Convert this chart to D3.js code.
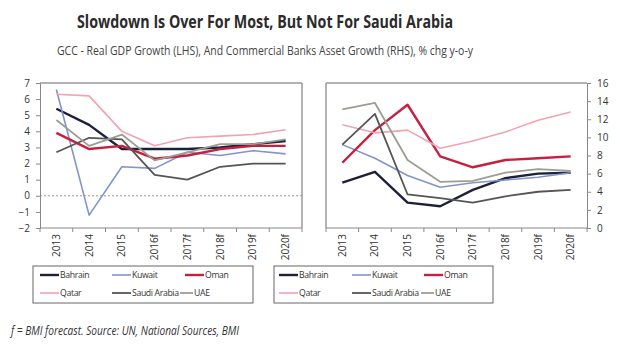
<!DOCTYPE html>
<html>
<head>
<meta charset="utf-8">
<script src="https://cdn.jsdelivr.net/npm/d3@7"></script>
<style>
    body { margin: 0; background: #fff; }
    svg { display: block; font-family: "Open Sans", sans-serif; }
</style>
</head>
<body>
<svg id="chart" width="620" height="349"></svg>
<script>
var years = ["2013", "2014", "2015", "2016f", "2017f", "2018f", "2019f", "2020f"];
var countries = ["Bahrain", "Kuwait", "Oman", "Qatar", "Saudi Arabia", "UAE"];
var colors = ["#1e1f3b", "#8195c8", "#c3213f", "#f2a2b3", "#555555", "#9b9e92"];
var widths = [2.4, 1.6, 2.4, 1.6, 1.8, 1.8];

// real GDP growth, % y-o-y (LHS)
var gdpBahrain = [5.4, 4.4, 2.9, 2.9, 2.9, 3.0, 3.2, 3.4];
var gdpKuwait = [6.6, -1.2, 1.8, 1.7, 2.7, 2.5, 2.8, 2.6];
var gdpOman = [3.9, 2.9, 3.1, 2.3, 2.5, 2.9, 3.1, 3.1];
var gdpQatar = [6.3, 6.2, 4.0, 3.1, 3.6, 3.7, 3.8, 4.1];
var gdpSaudi = [2.7, 3.6, 3.5, 1.3, 1.0, 1.8, 2.0, 2.0];
var gdpUAE = [4.7, 3.1, 3.8, 2.2, 2.7, 3.2, 3.2, 3.5];

// commercial banks asset growth, % y-o-y (RHS)
var astBahrain = [5.0, 6.2, 2.8, 2.4, 4.2, 5.5, 6.0, 6.1];
var astKuwait = [9.2, 7.7, 5.8, 4.5, 5.0, 5.3, 5.6, 6.1];
var astOman = [7.2, 10.8, 13.6, 7.9, 6.7, 7.5, 7.7, 7.9];
var astQatar = [11.4, 10.5, 10.8, 8.8, 9.6, 10.6, 11.9, 12.8];
var astSaudi = [9.2, 12.6, 3.7, 3.3, 2.8, 3.5, 4.0, 4.2];
var astUAE = [13.1, 13.8, 7.5, 5.1, 5.2, 6.1, 6.5, 6.3];

var gdpTicks = [-2, -1, 0, 1, 2, 3, 4, 5, 6, 7];
var astTicks = [0, 2, 4, 6, 8, 10, 12, 14, 16];

var svg = d3.select("#chart");

svg.append("text")
    .attr("x", 265).attr("y", 28)
    .attr("text-anchor", "middle")
    .attr("font-size", 17).attr("font-weight", "bold")
    .attr("fill", "#2b2b2b")
    .attr("textLength", 376).attr("lengthAdjust", "spacingAndGlyphs")
    .text("Slowdown Is Over For Most, But Not For Saudi Arabia");

svg.append("text")
    .attr("x", 265).attr("y", 55)
    .attr("text-anchor", "middle")
    .attr("font-size", 12).attr("fill", "#444")
    .attr("textLength", 416).attr("lengthAdjust", "spacingAndGlyphs")
    .text("GCC - Real GDP Growth (LHS), And Commercial Banks Asset Growth (RHS), % chg y-o-y");

svg.append("text")
    .attr("x", 11).attr("y", 335)
    .attr("font-size", 12).attr("font-style", "italic").attr("fill", "#333")
    .attr("textLength", 228).attr("lengthAdjust", "spacingAndGlyphs")
    .text("f = BMI forecast. Source: UN, National Sources, BMI");

function drawPanel(o) {
    var g = svg.append("g");
    var x = d3.scaleBand().domain(years).range([o.left, o.right]);
    var y = d3.scaleLinear().domain(o.domain).range([228, 83]);

    // frame: top and the side without an axis
    g.append("line")
        .attr("x1", o.left).attr("x2", o.right).attr("y1", 83).attr("y2", 83)
        .attr("stroke", "#999").attr("stroke-width", 1.5);
    var fx = o.axisSide == "left" ? o.right : o.left;
    g.append("line")
        .attr("x1", fx).attr("x2", fx).attr("y1", 83).attr("y2", 228)
        .attr("stroke", "#999").attr("stroke-width", 1.5);

    if (o.zeroLine) {
        g.append("line")
            .attr("x1", o.left).attr("x2", o.right)
            .attr("y1", y(0)).attr("y2", y(0))
            .attr("stroke", "#999").attr("stroke-dasharray", "2,2");
    }

    // y axis
    var ax = o.axisSide == "left" ? d3.axisLeft(y) : d3.axisRight(y);
    var yAxis = g.append("g")
        .attr("transform", "translate(" + (o.axisSide == "left" ? o.left : o.right) + ",0)")
        .call(ax.tickValues(o.ticks).tickSize(4).tickPadding(6));
    yAxis.select(".domain").attr("stroke", "#888");
    yAxis.selectAll(".tick line").attr("stroke", "#888");
    yAxis.selectAll("text").attr("font-size", 10).attr("fill", "#333")
        .attr("font-family", "Open Sans, sans-serif");

    // x axis, ticks sit between the categories
    var xAxis = g.append("g").attr("transform", "translate(0,228)");
    xAxis.append("line")
        .attr("x1", o.left).attr("x2", o.right)
        .attr("stroke", "#888");
    xAxis.selectAll("line.tk")
        .data(years.concat(["end"]))
        .enter().append("line")
        .attr("class", "tk")
        .attr("x1", function (d, i) { return o.left + i * x.bandwidth(); })
        .attr("x2", function (d, i) { return o.left + i * x.bandwidth(); })
        .attr("y1", 0).attr("y2", 4)
        .attr("stroke", "#888");
    xAxis.selectAll("text")
        .data(years)
        .enter().append("text")
        .attr("transform", function (d) {
            return "translate(" + (x(d) + x.bandwidth() / 2 + 3.5) + ",6) rotate(-90)";
        })
        .attr("text-anchor", "end")
        .attr("font-size", 10).attr("fill", "#333")
        .text(function (d) { return d; });

    var line = d3.line()
        .x(function (d, i) { return x(years[i]) + x.bandwidth() / 2; })
        .y(function (d) { return y(d); });

    g.selectAll("path.series")
        .data(o.series)
        .enter().append("path")
        .attr("class", "series")
        .attr("fill", "none")
        .attr("stroke", function (d, i) { return colors[i]; })
        .attr("stroke-width", function (d, i) { return widths[i]; })
        .attr("stroke-linejoin", "round")
        .attr("d", line);

    // legend
    var lg = g.append("g");
    lg.append("rect")
        .attr("x", o.legX).attr("y", 266)
        .attr("width", o.legW).attr("height", 37)
        .attr("fill", "none").attr("stroke", "#666");
    var item = lg.selectAll("g.item")
        .data(countries)
        .enter().append("g")
        .attr("class", "item")
        .attr("transform", function (d, i) {
            return "translate(" + o.legCols[i] + "," + (i < 3 ? 275 : 293) + ")";
        });
    item.append("line")
        .attr("x1", function (d, i) { return i == 5 ? -13 : -19; })
        .attr("x2", 0)
        .attr("stroke", function (d, i) { return colors[i]; })
        .attr("stroke-width", function (d, i) { return widths[i]; });
    item.append("text")
        .attr("x", 1).attr("dy", "0.35em")
        .attr("font-size", 8.7).attr("letter-spacing", -0.35).attr("fill", "#333")
        .text(function (d) { return d; });
}

drawPanel({
    left: 40, right: 302, domain: [-2, 7], ticks: gdpTicks, axisSide: "left", zeroLine: true,
    series: [gdpBahrain, gdpKuwait, gdpOman, gdpQatar, gdpSaudi, gdpUAE],
    legX: 33, legW: 220, legCols: [59, 131, 204, 59, 131, 193]
});

drawPanel({
    left: 326, right: 587, domain: [0, 16], ticks: astTicks, axisSide: "right", zeroLine: false,
    series: [astBahrain, astKuwait, astOman, astQatar, astSaudi, astUAE],
    legX: 274, legW: 219, legCols: [298, 371, 443, 298, 371, 434]
});
</script>
</body>
</html>
